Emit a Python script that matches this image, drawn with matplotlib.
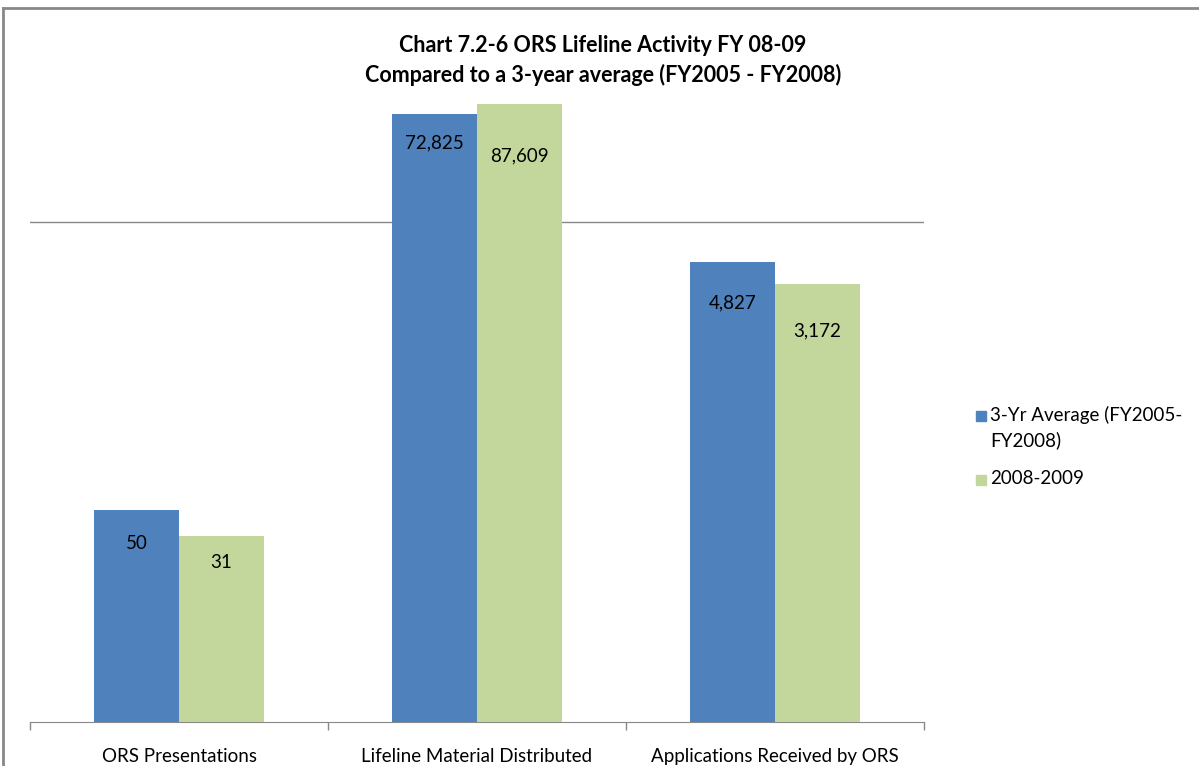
import matplotlib
matplotlib.use("Agg")
import matplotlib.pyplot as plt
import numpy as np
from matplotlib.lines import Line2D
from matplotlib.patches import Rectangle

CATEGORIES = ["ORS Presentations", "Lifeline Material Distributed", "Applications Received by ORS"]
AVG_3YR = [50, 72825, 4827]
FY_0809 = [31, 87609, 3172]
SERIES_NAMES = ["3-Yr Average (FY2005-\nFY2008)", "2008-2009"]

BLUE = "#4F81BD"
GREEN = "#C3D69B"
FONT = ["Lato", "DejaVu Sans"]

# label offsets below the bar top, in pixels (Excel placed them unevenly)
DY_AVG = [34, 29, 41]
DY_FY = [27, 52, 47]


def px(xp, yp):
    """pixel position from top-left -> figure fraction"""
    return xp / 1199, 1 - yp / 766


def main() -> None:
    plt.rcParams["font.family"] = FONT
    fig = plt.figure(figsize=(11.99, 7.66), dpi=100)
    ax = fig.add_axes([30 / 1199, 44 / 766, (924 - 30) / 1199, (722 - 97) / 766])

    x = np.arange(len(CATEGORIES))
    w = 0.285
    ax.bar(x - w / 2, AVG_3YR, width=w, color=BLUE, zorder=3)
    ax.bar(x + w / 2, FY_0809, width=w, color=GREEN, zorder=3)

    for xs, vals, dys in ((x - w / 2, AVG_3YR, DY_AVG), (x + w / 2, FY_0809, DY_FY)):
        for xp, v, dy in zip(xs, vals, dys):
            ax.annotate(f"{v:,}", (xp, v), xytext=(0, -dy * 0.72), textcoords="offset points",
                        ha="center", va="center", fontsize=13.5, color="black", zorder=4)

    ax.set_yscale("log")
    ax.set_ylim(1, 1e5)
    ax.set_xlim(-0.5, len(CATEGORIES) - 0.5)
    ax.set_yticks([10000])
    ax.yaxis.set_minor_locator(matplotlib.ticker.NullLocator())
    ax.tick_params(axis="y", left=False, labelleft=False)
    ax.grid(axis="y", color="#888888", lw=1.0, zorder=0)

    ax.set_xticks(x)
    ax.set_xticklabels(CATEGORIES, fontsize=13.5)
    ax.set_xticks(np.arange(len(CATEGORIES) + 1) - 0.5, minor=True)
    ax.tick_params(axis="x", which="major", length=0, pad=19)
    ax.tick_params(axis="x", which="minor", length=6, color="#888888", width=1.0)

    for side in ("top", "right", "left"):
        ax.spines[side].set_visible(False)
    ax.spines["bottom"].set_color("#888888")

    fig.text(*px(603, 45), "Chart 7.2-6 ORS Lifeline Activity FY 08-09",
             ha="center", va="center", fontsize=15.5, fontweight="bold")
    fig.text(*px(603, 75), "Compared to a 3-year average (FY2005 - FY2008)",
             ha="center", va="center", fontsize=15.5, fontweight="bold")

    # legend drawn by hand so the swatch sits on the first text line, as in Excel
    for (ly, name, color) in zip([416, 480], SERIES_NAMES, [BLUE, GREEN]):
        sx, sy = px(976, ly + 5)
        fig.add_artist(Rectangle((sx, sy), 10 / 1199, 10 / 766, transform=fig.transFigure,
                                 color=color))
        fig.text(*px(990, ly - 10), name, ha="left", va="top", fontsize=13.5, linespacing=1.45)

    fig.add_artist(Line2D([3 / 1199, 3 / 1199], [0, 1 - 8 / 766], color="#888888", lw=2))
    fig.add_artist(Line2D([3 / 1199, 1], [1 - 8 / 766, 1 - 8 / 766], color="#888888", lw=2))

    fig.savefig("out.png", dpi=100)
    plt.close(fig)


if __name__ == "__main__":
    main()
